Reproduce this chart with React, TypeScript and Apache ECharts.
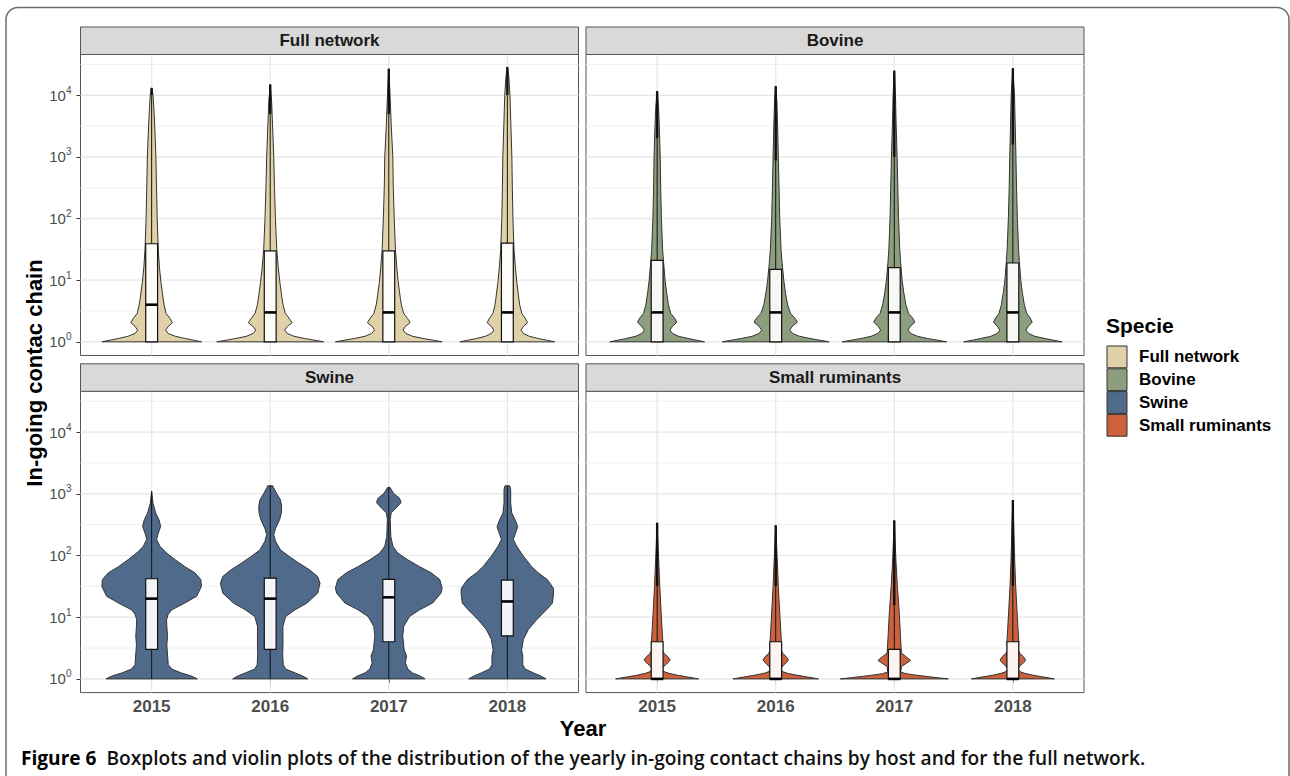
import React, { useEffect, useRef } from "react";
import * as echarts from "echarts";

// ---------- data ----------
const years = ["2015", "2016", "2017", "2018"];
const yearPositions = [1, 2, 3, 4];
const species = ["Full network", "Bovine", "Swine", "Small ruminants"];
const speciesColors = ["#E0D1A8", "#8D9E7F", "#4F6A8A", "#CC613E"];

// y breaks, as log10 of the chain length (10^0 ... 10^4)
const majorBreaks = [0, 1, 2, 3, 4];
const minorBreaks = [0.5, 1.5, 2.5, 3.5, 4.5];

// violin outlines: [log10(chain length), half width in category units]
const fullNetworkViolins = [
  [[0, 0.42], [0.027, 0.35], [0.054, 0.28], [0.09, 0.2], [0.135, 0.14], [0.19, 0.118], [0.25, 0.14], [0.31, 0.175], [0.38, 0.155], [0.46, 0.122], [0.6, 0.105], [0.7, 0.097], [0.96, 0.079], [1.2, 0.066], [1.5, 0.056], [2.0, 0.047], [2.5, 0.041], [3.0, 0.036], [3.5, 0.026], [3.8, 0.018], [4.0, 0.012], [4.12, 0]],
  [[0, 0.45], [0.027, 0.37], [0.054, 0.29], [0.09, 0.2], [0.135, 0.145], [0.19, 0.122], [0.25, 0.145], [0.31, 0.185], [0.38, 0.16], [0.46, 0.128], [0.6, 0.108], [0.7, 0.1], [0.96, 0.082], [1.2, 0.068], [1.5, 0.055], [2.0, 0.044], [2.5, 0.036], [3.0, 0.03], [3.5, 0.02], [3.9, 0.012], [4.175, 0]],
  [[0, 0.45], [0.027, 0.37], [0.054, 0.29], [0.09, 0.2], [0.135, 0.145], [0.19, 0.12], [0.25, 0.14], [0.31, 0.18], [0.38, 0.158], [0.46, 0.126], [0.6, 0.106], [0.7, 0.098], [0.96, 0.08], [1.2, 0.068], [1.5, 0.056], [2.0, 0.046], [2.5, 0.038], [3.0, 0.034], [3.5, 0.021], [4.0, 0.011], [4.43, 0]],
  [[0, 0.4], [0.027, 0.33], [0.054, 0.26], [0.09, 0.185], [0.135, 0.135], [0.19, 0.115], [0.25, 0.135], [0.31, 0.17], [0.38, 0.152], [0.46, 0.122], [0.6, 0.104], [0.7, 0.097], [0.96, 0.08], [1.2, 0.068], [1.5, 0.056], [2.0, 0.047], [2.5, 0.042], [3.0, 0.038], [3.5, 0.03], [4.0, 0.022], [4.3, 0.012], [4.46, 0]],
];
const bovineViolins = [
  [[0, 0.4], [0.027, 0.33], [0.054, 0.26], [0.09, 0.18], [0.135, 0.13], [0.19, 0.108], [0.25, 0.13], [0.32, 0.166], [0.39, 0.145], [0.46, 0.115], [0.6, 0.095], [0.8, 0.08], [1.0, 0.067], [1.3, 0.054], [1.5, 0.046], [2.0, 0.036], [2.5, 0.03], [3.0, 0.026], [3.5, 0.018], [3.8, 0.012], [4.07, 0]],
  [[0, 0.45], [0.027, 0.37], [0.054, 0.29], [0.09, 0.2], [0.135, 0.143], [0.19, 0.118], [0.25, 0.14], [0.32, 0.183], [0.39, 0.16], [0.46, 0.125], [0.6, 0.1], [0.8, 0.082], [1.0, 0.068], [1.3, 0.053], [1.5, 0.045], [2.0, 0.034], [2.5, 0.028], [3.0, 0.022], [3.5, 0.016], [3.9, 0.01], [4.15, 0]],
  [[0, 0.44], [0.027, 0.36], [0.054, 0.28], [0.09, 0.195], [0.135, 0.14], [0.19, 0.115], [0.25, 0.135], [0.32, 0.174], [0.39, 0.153], [0.46, 0.12], [0.6, 0.098], [0.8, 0.08], [1.0, 0.066], [1.3, 0.053], [1.5, 0.046], [2.0, 0.036], [2.5, 0.03], [3.0, 0.024], [3.5, 0.016], [4.0, 0.01], [4.4, 0]],
  [[0, 0.415], [0.027, 0.34], [0.054, 0.27], [0.09, 0.185], [0.135, 0.133], [0.19, 0.11], [0.25, 0.13], [0.32, 0.163], [0.39, 0.145], [0.46, 0.117], [0.6, 0.097], [0.8, 0.08], [1.0, 0.067], [1.3, 0.055], [1.5, 0.048], [2.0, 0.038], [2.5, 0.031], [3.0, 0.026], [3.5, 0.02], [4.0, 0.014], [4.44, 0]],
];
const swineViolins = [
  [[0, 0.385], [0.05, 0.33], [0.097, 0.25], [0.16, 0.17], [0.23, 0.14], [0.37, 0.135], [0.55, 0.128], [0.69, 0.134], [0.85, 0.128], [0.96, 0.126], [1.05, 0.14], [1.12, 0.17], [1.23, 0.28], [1.34, 0.38], [1.5, 0.42], [1.61, 0.415], [1.72, 0.365], [1.82, 0.28], [1.93, 0.2], [2.04, 0.126], [2.15, 0.07], [2.26, 0.042], [2.34, 0.052], [2.47, 0.076], [2.58, 0.062], [2.69, 0.034], [2.85, 0.011], [3.04, 0]],
  [[0, 0.317], [0.05, 0.27], [0.097, 0.21], [0.16, 0.13], [0.23, 0.11], [0.4, 0.105], [0.6, 0.108], [0.85, 0.107], [1.01, 0.13], [1.12, 0.21], [1.23, 0.31], [1.39, 0.4], [1.55, 0.42], [1.66, 0.4], [1.77, 0.33], [1.88, 0.24], [1.99, 0.157], [2.09, 0.087], [2.23, 0.045], [2.34, 0.03], [2.44, 0.045], [2.58, 0.079], [2.7, 0.095], [2.8, 0.096], [2.9, 0.087], [3.01, 0.053], [3.1, 0.028], [3.13, 0.022]],
  [[0, 0.306], [0.05, 0.26], [0.097, 0.2], [0.16, 0.16], [0.26, 0.14], [0.37, 0.15], [0.47, 0.13], [0.69, 0.118], [0.85, 0.126], [1.01, 0.174], [1.12, 0.26], [1.23, 0.37], [1.39, 0.44], [1.47, 0.45], [1.61, 0.43], [1.72, 0.357], [1.82, 0.26], [1.93, 0.16], [2.04, 0.076], [2.15, 0.034], [2.31, 0.017], [2.58, 0.012], [2.69, 0.02], [2.77, 0.062], [2.86, 0.104], [2.93, 0.09], [3.01, 0.039], [3.1, 0.012]],
  [[0, 0.326], [0.05, 0.28], [0.097, 0.22], [0.16, 0.15], [0.23, 0.13], [0.37, 0.13], [0.47, 0.12], [0.64, 0.135], [0.8, 0.177], [0.96, 0.247], [1.12, 0.33], [1.23, 0.38], [1.39, 0.39], [1.47, 0.388], [1.61, 0.337], [1.72, 0.26], [1.82, 0.205], [1.99, 0.135], [2.15, 0.079], [2.26, 0.05], [2.34, 0.065], [2.47, 0.087], [2.58, 0.065], [2.69, 0.037], [2.85, 0.028], [3.07, 0.028], [3.13, 0.02]],
];
const smallRuminantViolins = [
  [[0, 0.35], [0.03, 0.26], [0.06, 0.17], [0.09, 0.1], [0.12, 0.055], [0.17, 0.045], [0.22, 0.065], [0.27, 0.095], [0.31, 0.11], [0.36, 0.09], [0.41, 0.06], [0.47, 0.045], [0.6, 0.048], [0.8, 0.042], [1.07, 0.034], [1.5, 0.022], [1.88, 0.014], [2.15, 0.008], [2.53, 0]],
  [[0, 0.36], [0.03, 0.27], [0.06, 0.18], [0.09, 0.1], [0.12, 0.055], [0.17, 0.045], [0.22, 0.065], [0.27, 0.093], [0.31, 0.107], [0.36, 0.09], [0.41, 0.06], [0.47, 0.045], [0.6, 0.048], [0.8, 0.042], [1.07, 0.034], [1.5, 0.022], [1.88, 0.014], [2.15, 0.008], [2.49, 0]],
  [[0, 0.455], [0.02, 0.36], [0.043, 0.26], [0.065, 0.17], [0.085, 0.1], [0.11, 0.055], [0.2, 0.06], [0.25, 0.1], [0.3, 0.138], [0.36, 0.1], [0.42, 0.06], [0.5, 0.058], [0.7, 0.052], [1.07, 0.042], [1.5, 0.026], [1.88, 0.015], [2.2, 0.008], [2.57, 0]],
  [[0, 0.35], [0.03, 0.26], [0.06, 0.17], [0.09, 0.1], [0.12, 0.055], [0.17, 0.045], [0.22, 0.065], [0.27, 0.095], [0.31, 0.107], [0.36, 0.09], [0.41, 0.06], [0.47, 0.045], [0.6, 0.05], [0.8, 0.044], [1.07, 0.036], [1.5, 0.024], [1.9, 0.016], [2.3, 0.01], [2.6, 0.006], [2.9, 0]],
];

// boxplot stats (chain length): [Q1, median, Q3, upper whisker end, maximum]
const fullNetworkBoxes = [
  [1, 4, 39, 10000, 13200],
  [1, 3, 30, 4900, 15000],
  [1, 3, 30, 4900, 27000],
  [1, 3, 40, 10000, 28800],
];
const bovineBoxes = [
  [1, 3, 21, 2000, 11700],
  [1, 3, 15, 870, 14100],
  [1, 3, 16, 1000, 25000],
  [1, 3, 19, 1580, 27500],
];
const swineBoxes = [
  [3, 20, 42, 1100, 1100],
  [3, 20, 43, 1350, 1350],
  [4, 21, 41, 1300, 1300],
  [5, 18, 40, 1350, 1350],
];
const smallRuminantBoxes = [
  [1, 1, 4, 32, 340],
  [1, 1, 4, 32, 310],
  [1, 1, 3, 15.6, 370],
  [1, 1, 4, 32, 790],
];

const captionLead = "Figure 6";
const captionText = "Boxplots and violin plots of the distribution of the yearly in-going contact chains by host and for the full network.";

const allViolins = [fullNetworkViolins, bovineViolins, swineViolins, smallRuminantViolins];
const allBoxes = [fullNetworkBoxes, bovineBoxes, swineBoxes, smallRuminantBoxes];

// ---------- layout ----------
const FONT = "'Liberation Sans', Arial, Helvetica, sans-serif";
const CAP_FONT = "'Open Sans', 'Noto Sans', sans-serif";
const panels = [
  { left: 80.5, top: 54.5, width: 498, height: 301, leftCol: true, bottomRow: false },
  { left: 586, top: 54.5, width: 498, height: 301, leftCol: false, bottomRow: false },
  { left: 80.5, top: 391.3, width: 498, height: 301.3, leftCol: true, bottomRow: true },
  { left: 586, top: 391.3, width: 498, height: 301.3, leftCol: false, bottomRow: true },
];
const Y_MIN = -0.222;
const Y_MAX = 4.662;

function measure(text: string, font: string) {
  const cv = document.createElement("canvas");
  const ctx = cv.getContext("2d");
  if (!ctx) return text.length * 9;
  ctx.font = font;
  return ctx.measureText(text).width;
}

function violinRenderer(profiles: number[][][], boxes: number[][], color: string) {
  return (params: any, api: any) => {
    const i = params.dataIndex;
    const xc = api.value(0);
    const prof = profiles[i];
    const [q1, med, q3, wHi, mx] = boxes[i].map((v) => Math.log10(v));
    const c = (x: number, y: number) => api.coord([x, y]);
    const right = prof.map(([l, w]) => c(xc + w, l));
    const left = prof.slice().reverse().map(([l, w]) => c(xc - w, l));
    const children: any[] = [];
    children.push({
      type: "polygon",
      shape: { points: right.concat(left) },
      style: { fill: color, stroke: "#333333", lineWidth: 1 },
    });
    const vline = (y0: number, y1: number, lw: number) => {
      const a = c(xc, y0);
      const b = c(xc, y1);
      children.push({
        type: "line",
        shape: { x1: a[0], y1: a[1], x2: b[0], y2: b[1] },
        style: { stroke: "#111111", lineWidth: lw },
      });
    };
    if (wHi > q3) vline(q3, wHi, 1);
    if (q1 > 0) vline(0, q1, 1);
    if (mx > wHi) vline(wHi, mx, 2.4);
    const tl = c(xc - 0.05, q3);
    const br = c(xc + 0.05, q1);
    children.push({
      type: "rect",
      shape: { x: tl[0], y: tl[1], width: br[0] - tl[0], height: br[1] - tl[1] },
      style: { fill: "rgba(255,255,255,0.93)", stroke: "#111111", lineWidth: 1.2 },
    });
    const m0 = c(xc - 0.05, med);
    const m1 = c(xc + 0.05, med);
    children.push({
      type: "line",
      shape: { x1: m0[0], y1: m0[1], x2: m1[0], y2: m1[1] },
      style: { stroke: "#000000", lineWidth: 2.6 },
    });
    return { type: "group", children };
  };
}

function gridRenderer(params: any, api: any) {
  const kind = api.value(0);
  const v = api.value(1);
  const cs = params.coordSys;
  if (kind === 2) {
    const p = api.coord([v, 0]);
    return {
      type: "line",
      shape: { x1: p[0], y1: cs.y, x2: p[0], y2: cs.y + cs.height },
      style: { stroke: "#e6e6e6", lineWidth: 1.2 },
    };
  }
  const p = api.coord([1, v]);
  return {
    type: "line",
    shape: { x1: cs.x, y1: p[1], x2: cs.x + cs.width, y2: p[1] },
    style: { stroke: kind === 0 ? "#e6e6e6" : "#efefef", lineWidth: kind === 0 ? 1.2 : 1 },
  };
}

export default function App() {
  const ref = useRef<HTMLDivElement>(null);
  useEffect(() => {
    if (!ref.current) return;
    const chart = echarts.init(ref.current, null, { renderer: "svg" });

    const gridData = [
      ...majorBreaks.map((v) => [0, v]),
      ...minorBreaks.map((v) => [1, v]),
      ...yearPositions.map((v) => [2, v]),
    ];

    const grids = panels.map((p) => ({
      left: p.left,
      top: p.top,
      width: p.width,
      height: p.height,
      show: true,
      backgroundColor: "#ffffff",
      borderColor: "#555555",
      borderWidth: 1,
      containLabel: false,
    }));

    const xAxes = panels.map((p, i) => ({
      type: "value",
      gridIndex: i,
      min: 0.4,
      max: 4.6,
      axisLine: { show: false },
      splitLine: { show: false },
      axisTick: {
        show: p.bottomRow,
        customValues: yearPositions,
        length: 4,
        lineStyle: { color: "#333333", width: 1 },
      },
      axisLabel: {
        show: p.bottomRow,
        customValues: yearPositions,
        formatter: (v: number) => years[Math.round(v) - 1],
        fontFamily: FONT,
        fontSize: 17,
        fontWeight: "bold",
        color: "#4d4d4d",
        margin: 5,
      },
    }));

    const yAxes = panels.map((p, i) => ({
      type: "value",
      gridIndex: i,
      min: Y_MIN,
      max: Y_MAX,
      axisLine: { show: false },
      splitLine: { show: false },
      axisTick: {
        show: p.leftCol,
        customValues: majorBreaks,
        length: 4,
        lineStyle: { color: "#333333", width: 1 },
      },
      axisLabel: {
        show: p.leftCol,
        customValues: majorBreaks,
        margin: 9,
        formatter: (v: number) => `{b|10}{s|${Math.round(v)}}`,
        rich: {
          b: { fontFamily: FONT, fontSize: 15, color: "#4d4d4d", lineHeight: 16 },
          s: { fontFamily: FONT, fontSize: 10, color: "#4d4d4d", lineHeight: 11, padding: [0, 0, 10, 0] },
        },
      },
    }));

    const series: any[] = [];
    panels.forEach((p, i) => {
      series.push({
        type: "custom",
        name: "grid" + i,
        xAxisIndex: i,
        yAxisIndex: i,
        silent: true,
        z: 1,
        renderItem: gridRenderer,
        data: gridData,
      });
    });
    species.forEach((name, i) => {
      series.push({
        type: "custom",
        name,
        xAxisIndex: i,
        yAxisIndex: i,
        z: 2,
        itemStyle: { color: speciesColors[i] },
        renderItem: violinRenderer(allViolins[i], allBoxes[i], speciesColors[i]),
        data: yearPositions.map((x) => [x, 0]),
      });
    });

    // caption size fitted to the reference line width
    const base = 18;
    const wLead = measure(captionLead, `700 ${base}px ${CAP_FONT}`);
    const wRest = measure("  " + captionText, `600 ${base}px ${CAP_FONT}`);
    let capSize = (base * 1125) / (wLead + wRest);
    if (!isFinite(capSize) || capSize < 14 || capSize > 22) capSize = 18;

    const graphics: any[] = [
      {
        type: "rect",
        z: 0,
        shape: { x: 6, y: 7.5, width: 1283, height: 800, r: 12 },
        style: { fill: "none", stroke: "#6b6b6b", lineWidth: 1.5 },
      },
    ];
    panels.forEach((p, i) => {
      graphics.push({
        type: "rect",
        z: 5,
        shape: { x: p.left, y: p.top - 27.5, width: p.width, height: 27.5 },
        style: { fill: "#d9d9d9", stroke: "#555555", lineWidth: 1 },
      });
      graphics.push({
        type: "text",
        z: 6,
        x: p.left + p.width / 2,
        y: p.top - 13.8,
        style: {
          text: species[i],
          font: `bold 17px ${FONT}`,
          fill: "#1a1a1a",
          align: "center",
          verticalAlign: "middle",
          textAlign: "center",
          textVerticalAlign: "middle",
        },
      });
    });
    graphics.push(
      {
        type: "text",
        x: 34,
        y: 373,
        rotation: Math.PI / 2,
        style: {
          text: "In-going contac chain",
          font: `bold 22px ${FONT}`,
          fill: "#000000",
          align: "center",
          verticalAlign: "middle",
          textAlign: "center",
          textVerticalAlign: "middle",
        },
      },
      {
        type: "text",
        x: 583,
        y: 728,
        style: {
          text: "Year",
          font: `bold 22px ${FONT}`,
          fill: "#000000",
          align: "center",
          verticalAlign: "middle",
          textAlign: "center",
          textVerticalAlign: "middle",
        },
      },
      {
        type: "text",
        x: 1106,
        y: 325,
        style: {
          text: "Specie",
          font: `bold 21px ${FONT}`,
          fill: "#000000",
          align: "left",
          verticalAlign: "middle",
          textAlign: "left",
          textVerticalAlign: "middle",
        },
      },
      {
        type: "text",
        x: 21,
        y: 757.5,
        style: {
          text: `{a|${captionLead}}{b|  ${captionText}}`,
          rich: {
            a: { fontFamily: CAP_FONT, fontWeight: 700, fontSize: capSize, fill: "#000000" },
            b: { fontFamily: CAP_FONT, fontWeight: 600, fontSize: capSize, fill: "#111111" },
          },
          align: "left",
          verticalAlign: "middle",
          textAlign: "left",
          textVerticalAlign: "middle",
        },
      }
    );

    chart.setOption({
      animation: false,
      backgroundColor: "#ffffff",
      textStyle: { fontFamily: FONT },
      grid: grids,
      xAxis: xAxes,
      yAxis: yAxes,
      legend: {
        data: species.map((name) => ({ name, icon: "rect" })),
        orient: "vertical",
        left: 1106.5,
        top: 345.5,
        padding: 0,
        itemGap: 0,
        itemWidth: 20,
        itemHeight: 21.8,
        selectedMode: false,
        itemStyle: { borderColor: "#333333", borderWidth: 1 },
        textStyle: { fontFamily: FONT, fontSize: 17, fontWeight: "bold", color: "#000000", padding: [0, 0, 0, 7] },
      },
      graphic: graphics,
      series,
    });
    return () => chart.dispose();
  }, []);
  return (
    <div
      ref={ref}
      style={{ position: "absolute", left: 0, top: 0, width: 1290, height: 776, background: "#fff" }}
    />
  );
}
